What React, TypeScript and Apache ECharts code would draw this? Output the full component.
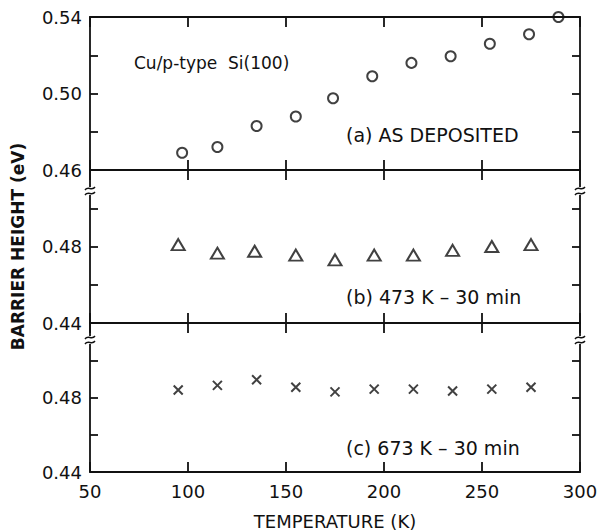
import React, { useEffect, useRef } from "react";
import * as echarts from "echarts";

const X_MIN = 50;
const X_MAX = 300;
const X_INTERVAL = 50;

const tempA = [97, 115, 135, 155, 174, 194, 214, 234, 254, 274, 289];
const barrierA = [0.469, 0.472, 0.483, 0.488, 0.4975, 0.509, 0.516, 0.5195, 0.526, 0.531, 0.540];

const tempB = [95, 115, 134, 155, 175, 195, 215, 235, 255, 275];
const barrierB = [0.481, 0.4765, 0.4775, 0.4755, 0.473, 0.4755, 0.4755, 0.478, 0.48, 0.481];

const tempC = [95, 115, 135, 155, 175, 195, 215, 235, 255, 275];
const barrierC = [0.484, 0.4865, 0.4895, 0.4855, 0.483, 0.4845, 0.4845, 0.4835, 0.4845, 0.4855];

const yRanges = [
  [0.46, 0.54],
  [0.44, 0.52],
  [0.44, 0.52],
];
const yLabelValues = [
  ["0.46", "0.50", "0.54"],
  ["0.44", "0.48"],
  ["0.44", "0.48"],
];

const panelTexts = ["(a) AS DEPOSITED", "(b) 473 K – 30 min", "(c) 673 K – 30 min"];
const sampleText = "Cu/p-type  Si(100)";
const xTitle = "TEMPERATURE (K)";
const yTitle = "BARRIER HEIGHT (eV)";

const FONT = "DejaVu Sans";
const BLACK = "#111";

export default function App() {
  const ref = useRef<HTMLDivElement>(null);
  useEffect(() => {
    if (!ref.current) return;
    const chart = echarts.init(ref.current, null, { renderer: "svg" });

    const grids = [
      { left: 90, width: 490, top: 17, height: 153 },
      { left: 90, width: 490, top: 170, height: 153 },
      { left: 90, width: 490, top: 323, height: 154 },
    ];

    const lineStyle = { color: BLACK, width: 1.8 };

    const xAxes: any[] = [];
    const yAxes: any[] = [];
    grids.forEach((_, i) => {
      ["bottom", "top"].forEach((pos) => {
        const isMain = pos === "bottom" && i === 2;
        xAxes.push({
          type: "value",
          gridIndex: i,
          position: pos,
          min: X_MIN,
          max: X_MAX,
          interval: X_INTERVAL,
          axisLine: { show: true, onZero: false, lineStyle },
          axisTick: { show: true, inside: true, length: 10, lineStyle },
          axisLabel: {
            show: isMain,
            color: BLACK,
            fontFamily: FONT,
            fontSize: 18,
            margin: 10,
          },
          splitLine: { show: false },
          name: isMain ? xTitle : "",
          nameLocation: "middle",
          nameGap: 40,
          nameTextStyle: { color: BLACK, fontFamily: FONT, fontSize: 18 },
        });
      });
      ["left", "right"].forEach((pos) => {
        const isLeft = pos === "left";
        const labels = yLabelValues[i];
        yAxes.push({
          type: "value",
          gridIndex: i,
          position: pos,
          min: yRanges[i][0],
          max: yRanges[i][1],
          interval: 0.02,
          axisLine: { show: true, onZero: false, lineStyle },
          axisTick: { show: true, inside: true, length: 8, lineStyle },
          axisLabel: {
            show: isLeft,
            color: BLACK,
            fontFamily: FONT,
            fontSize: 18,
            margin: 8,
            showMaxLabel: true,
            showMinLabel: true,
            formatter: (v: number) => {
              const s = v.toFixed(2);
              return labels.indexOf(s) >= 0 ? s : "";
            },
          },
          splitLine: { show: false },
          name: isLeft && i === 1 ? yTitle : "",
          nameLocation: "middle",
          nameGap: 64,
          nameTextStyle: {
            color: BLACK,
            fontFamily: FONT,
            fontSize: 17,
            fontWeight: "bold",
          },
        });
      });
    });

    const markerStyle = {
      color: "rgba(255,255,255,0)",
      borderColor: BLACK,
      borderWidth: 2,
    };

    const series: any[] = [
      {
        type: "scatter",
        xAxisIndex: 0,
        yAxisIndex: 0,
        symbol: "circle",
        symbolSize: 10,
        itemStyle: markerStyle,
        data: tempA.map((t, k) => [t, barrierA[k]]),
      },
      {
        type: "scatter",
        xAxisIndex: 2,
        yAxisIndex: 2,
        symbol: "triangle",
        symbolSize: [13, 11],
        itemStyle: markerStyle,
        data: tempB.map((t, k) => [t, barrierB[k]]),
      },
      {
        type: "scatter",
        xAxisIndex: 4,
        yAxisIndex: 4,
        symbol: "path://M0,0L10,10M10,0L0,10",
        symbolSize: 9,
        itemStyle: { color: "rgba(0,0,0,0)", borderColor: BLACK, borderWidth: 2 },
        data: tempC.map((t, k) => [t, barrierC[k]]),
      },
    ];

    const textStyle = (txt: string, size: number) => ({
      text: txt,
      fill: BLACK,
      fontFamily: FONT,
      fontSize: size,
      verticalAlign: "middle",
    });

    const graphics: any[] = [
      { type: "text", x: 134, y: 63, z: 100, style: textStyle(sampleText, 17) },
      { type: "text", x: 346, y: 135, z: 100, style: textStyle(panelTexts[0], 19) },
      { type: "text", x: 346, y: 297, z: 100, style: textStyle(panelTexts[1], 19) },
      { type: "text", x: 346, y: 448, z: 100, style: textStyle(panelTexts[2], 19) },
    ];

    const breakYs = [191, 340];
    const breakXs = [90, 580];
    breakYs.forEach((by) => {
      breakXs.forEach((bx) => {
        graphics.push({
          type: "rect",
          z: 100,
          shape: { x: bx - 2, y: by - 4, width: 4, height: 8 },
          style: { fill: "#fff" },
        });
        [-2.5, 2.5].forEach((d) => {
          graphics.push({
            type: "bezierCurve",
            z: 101,
            shape: {
              x1: bx - 5,
              y1: by + d + 1.5,
              cpx1: bx - 2,
              cpy1: by + d - 3,
              cpx2: bx + 2,
              cpy2: by + d + 3,
              x2: bx + 5,
              y2: by + d - 1.5,
            },
            style: { stroke: BLACK, lineWidth: 1.4, fill: null },
          });
        });
      });
    });

    chart.setOption({
      animation: false,
      backgroundColor: "#fff",
      grid: grids,
      xAxis: xAxes,
      yAxis: yAxes,
      series,
      graphic: graphics,
    });

    return () => chart.dispose();
  }, []);

  return (
    <div
      ref={ref}
      style={{ position: "fixed", left: 0, top: 0, width: 613, height: 531, background: "#fff" }}
    />
  );
}
